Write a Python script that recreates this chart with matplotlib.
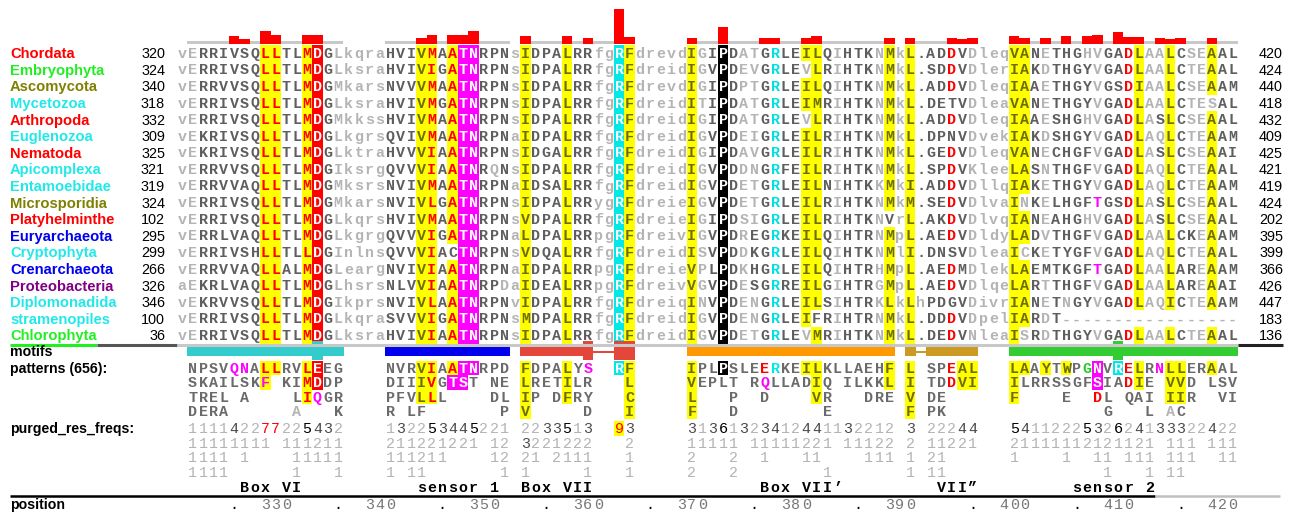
import matplotlib
matplotlib.use('Agg')
import matplotlib.pyplot as plt
from matplotlib.patches import Rectangle

# ── data ────────────────────────────────────────────────────────────────
names = ['Chordata', 'Embryophyta', 'Ascomycota', 'Mycetozoa', 'Arthropoda',
         'Euglenozoa', 'Nematoda', 'Apicomplexa', 'Entamoebidae', 'Microsporidia',
         'Platyhelminthe', 'Euryarchaeota', 'Cryptophyta', 'Crenarchaeota',
         'Proteobacteria', 'Diplomonadida', 'stramenopiles', 'Chlorophyta']
name_colors = ['#ff0000', '#22ee22', '#808000', '#22e8e8', '#ff0000',
               '#22e8e8', '#ff0000', '#22e8e8', '#22e8e8', '#808000',
               '#ff0000', '#0000ee', '#22e8e8', '#0000ee',
               '#800080', '#22e8e8', '#22e8e8', '#22ee22']
starts = [320, 324, 340, 318, 332, 309, 325, 321, 319, 324, 102, 295, 299, 266, 326, 346, 100, 36]
ends = [420, 424, 440, 418, 432, 409, 425, 421, 419, 424, 202, 395, 399, 366, 426, 447, 183, 136]

seqs = [
    'vERRIVSQLLTLMDGLkqra' 'HVIVMAATNRPNs' 'IDPALRRfgRFdrevd' 'IGIPDATGRLEILQIHTKNMkL' '.' 'ADDVDleq' 'VANETHGHVGADLAALCSEAAL',
    'vERRIVSQLLTLMDGLksra' 'HVIVIGATNRPNs' 'IDPALRRfgRFdreid' 'IGVPDEVGRLEVLRIHTKNMkL' '.' 'SDDVDler' 'IAKDTHGYVGADLAALCTEAAL',
    'vERRVVSQLLTLMDGMkars' 'NVVVMAATNRPNs' 'IDPALRRfgRFdrevd' 'IGIPDPTGRLEILQIHTKNMkL' '.' 'ADDVDleq' 'IAAETHGYVGSDIAALCSEAAM',
    'vERRIVSQLLTLMDGLksra' 'HVIVMGATNRPNs' 'IDPALRRfgRFdreid' 'ITIPDATGRLEIMRIHTKNMkL' '.' 'DETVDlea' 'VANETHGYVGADLAALCTESAL',
    'vERRIVSQLLTLMDGMkkss' 'HVIVMAATNRPNs' 'IDPALRRfgRFdreid' 'IGIPDATGRLEVLRIHTKNMkL' '.' 'ADDVDleq' 'IAAESHGHVGADLASLCSEAAL',
    'vEKRIVSQLLTLMDGLkgrs' 'QVIVMAATNRPNa' 'IDPALRRfgRFdreid' 'IGVPDEIGRLEILRIHTKNMkL' '.' 'DPNVDvek' 'IAKDSHGYVGADLAQLCTEAAM',
    'vEKRIVSQLLTLMDGLktra' 'HVVVIAATNRPNs' 'IDGALRRfgRFdreid' 'IGIPDAVGRLEILRIHTKNMkL' '.' 'GEDVDleq' 'VANECHGFVGADLASLCSEAAI',
    'vERRVVSQLLTLMDGIksrg' 'QVVVIAATNRQNs' 'IDPALRRfgRFdreid' 'IGVPDDNGRFEILRIHTKNMkL' '.' 'SPDVKlee' 'LASNTHGFVGADLAQLCTEAAL',
    'vERRVVAQLLTLMDGMksrs' 'NVIVMAATNRPNa' 'IDSALRRfgRFdreid' 'IGVPDETGRLEILNIHTKKMkI' '.' 'ADDVDllq' 'IAKETHGYVGADLAQLCTEAAM',
    'vERRIVSQLLTLMDGMkars' 'NVIVLGATNRPNs' 'IDPALRRygRFdreie' 'IGVPDETGRLEILRIHTKNMkM' '.' 'SEDVDlva' 'INKELHGFTGSDLASLCSEAAL',
    'vERRIVSQLLTLMDGLkqrs' 'HVIVMAATNRPNs' 'VDPALRRfgRFdreie' 'IGIPDSIGRLEILRIHTKNVrL' '.' 'AKDVDlvq' 'IANEAHGHVGADLASLCSEAAL',
    'vERRLVAQLLTLMDGLkgrg' 'QVVVIGATNRPNa' 'LDPALRRpgRFdreiv' 'IGVPDREGRKEILQIHTRNMpL' '.' 'AEDVDldy' 'LADVTHGFVGADLAALCKEAAM',
    'vERRIVSHLLTLLDGInlns' 'QVVVIACTNRPNs' 'VDQALRRfgRFdreid' 'ISVPDDKGRLEILQIHTKNMlI' '.' 'DNSVDlea' 'ICKETYGFVGADLAQLCTEAAL',
    'vERRVVAQLLALMDGLearg' 'NVIVIAATNRPNa' 'IDPALRRpgRFdreie' 'VPLPDKHGRLEILQIHTRHMpL' '.' 'AEDMDlek' 'LAEMTKGFTGADLAALAREAAM',
    'aEKRLVAQLLTLMDGLhsrs' 'NLVVIAATNRPDa' 'IDEALRRpgRFdreiv' 'VGVPDESGRREILGIHTRGMpL' '.' 'AEDVDlqe' 'LARTTHGFVGADLAALAREAAI',
    'vEKRVVSQLLTLMDGIkprs' 'NVIVLAATNRPNv' 'IDPALRRfgRFdreiq' 'INVPDENGRLEILSIHTRKLkL' 'h' 'PDGVDivr' 'IANETNGYVGADLAQICTEAAM',
    'vERRIVSQLLTLMDGLkqra' 'SVVVIGATNRPNs' 'MDPALRRfgRFdreid' 'IGVPDENGRLEIFRIHTRNMkL' '.' 'DDDVDpel' 'IARDT-----------------',
    'vERRIVSQLLTLMDGLksra' 'HVIVIAATNRPNs' 'IDPALRRfgRFdreid' 'IGVPDETGRLEVMRIHTKNMkL' '.' 'DEDVNlea' 'ISRDTHGYVGADLAALCTEAAL',
]

# uppercase residues drawn in light grey (not conserved in that column)
light_upper = {1: 'E', 15: 'LMI', 25: 'C', 30: 'Q', 31: 'D', 50: 'GTSPN',
               54: 'AEPSDRKN', 55: 'TVIN', 60: 'V', 63: 'I', 67: 'NKHG',
               76: 'DKN', 81: 'CSN', 83: 'EDNVT', 85: 'N', 87: 'H', 88: 'V',
               93: 'A', 94: 'AQ', 97: 'ST', 98: 'E', 99: 'S'}

# column highlights: column -> (residues, background, text colour)
YEL, OLV = '#ffff00', '#6e6e00'
col_marks = {8: ('L', YEL, 'red'), 9: ('L', YEL, 'red'), 12: ('ML', YEL, 'red'),
             13: ('D', 'red', 'white'), 23: ('V', YEL, OLV), 24: ('MIL', YEL, 'red'),
             26: ('A', YEL, 'red'), 27: ('T', '#ff00ff', 'white'), 28: ('N', '#ff00ff', 'white'),
             33: ('IVLM', YEL, OLV), 37: ('L', YEL, OLV), 42: ('R', '#00e8e8', 'white'),
             43: ('F', YEL, OLV), 49: ('IV', YEL, OLV), 52: ('P', 'black', 'white'),
             57: ('R', None, '#00e0e0'), 60: ('I', YEL, OLV), 61: ('LM', YEL, OLV),
             68: ('MLK', YEL, OLV), 70: ('LIM', YEL, OLV), 74: ('D', None, 'red'),
             80: ('VIL', YEL, OLV), 81: ('A', YEL, OLV), 88: ('T', None, '#ff00ff'),
             91: ('D', None, 'red'), 92: ('LI', YEL, OLV), 95: ('LI', YEL, OLV),
             99: ('A', YEL, OLV)}

# conservation bars above the alignment (column -> height)
bar_heights = {5: 8, 6: 5, 8: 13, 9: 9, 12: 9, 13: 9, 23: 6, 24: 9, 26: 9, 27: 9,
               28: 13, 33: 8, 37: 8, 39: 6, 42: 35, 43: 7, 49: 6, 52: 17, 56: 6,
               57: 6, 60: 6, 61: 8, 68: 6, 70: 6, 74: 6, 75: 5, 76: 6, 80: 8, 81: 6,
               83: 6, 85: 8, 87: 8, 88: 9, 90: 12, 91: 7, 92: 7, 94: 6, 95: 5,
               96: 6, 99: 6}

motif_spans = [(1, 15), (20, 31), (33, 43), (49, 68), (70, 76), (80, 101)]
motif_colors = ['#33cccc', '#0000ee', '#e4473a', '#ff9900', '#cc9922', '#33cc33']
motif_gaps = {2: (40, 41), 4: (71, 71)}
motif_bumps = {0: [13], 2: [39, 42, 43], 5: [90]}

pattern_rows = [
    [(1, 'NPSVQNALLRVLEEG'), (20, 'NVRVIAATNRPD'), (33, 'FDPALYS  RF'),
     (49, 'IPLPSLEERKEILKLLAEHF'), (70, 'L'), (72, 'SPEAL'), (80, 'LAAYTWPGNVRELRNLLERAAL')],
    [(1, 'SKAILSKF KIMDDP'), (20, 'DIIIVGTST NE'), (33, 'LRETILR   L'),
     (49, 'VEPLT RQLLADIQ ILKKL'), (70, 'I'), (72, 'TDDVI'), (80, 'ILRRSSGFSIADIE VVD LSV')],
    [(1, 'TREL A    LIQGR'), (20, 'PFVLLL    DL'), (33, 'IP DFRY   C'),
     (49, 'L   P  D    VR   DRE'), (70, 'V'), (72, 'DE'), (80, 'F    E  DL QAI IIR  VI')],
    [(1, 'DERA      A   K'), (20, 'R LF       P'), (33, 'V     D   I'),
     (49, 'F   D        E'), (70, 'F'), (72, 'PK'), (80, '         G   L AC')],
]
# (row, column) -> (background, text colour) for the pattern rows
MAG, CYN = '#ff00ff', '#00e8e8'
pattern_marks = {
    (0, 5): (None, MAG), (0, 6): (None, MAG), (0, 8): (YEL, 'red'), (0, 9): (YEL, 'red'),
    (0, 12): (YEL, 'red'), (0, 13): ('red', 'white'), (0, 23): (YEL, OLV), (0, 24): (YEL, 'red'),
    (0, 26): (YEL, 'red'), (0, 27): (MAG, 'white'), (0, 28): (MAG, 'white'), (0, 33): (YEL, OLV),
    (0, 37): (YEL, OLV), (0, 39): (None, MAG), (0, 42): (CYN, 'white'), (0, 43): (YEL, OLV),
    (0, 49): (YEL, OLV), (0, 52): ('black', 'white'), (0, 56): (None, 'red'), (0, 57): (None, CYN),
    (0, 60): (YEL, OLV), (0, 61): (YEL, OLV), (0, 68): (YEL, OLV), (0, 70): (YEL, OLV),
    (0, 74): (None, 'red'), (0, 75): (YEL, OLV), (0, 76): (YEL, OLV), (0, 80): (YEL, OLV),
    (0, 81): (YEL, OLV), (0, 83): (YEL, OLV), (0, 85): (YEL, OLV), (0, 87): (None, '#22cc22'),
    (0, 88): (MAG, 'white'), (0, 90): (CYN, 'white'), (0, 91): (None, 'red'), (0, 92): (YEL, OLV),
    (0, 94): (None, MAG), (0, 95): (YEL, OLV), (0, 96): (YEL, OLV), (0, 99): (YEL, OLV),
    (1, 8): (YEL, MAG), (1, 12): (YEL, 'red'), (1, 13): ('red', 'white'), (1, 23): (YEL, OLV),
    (1, 24): (YEL, 'red'), (1, 26): (MAG, 'white'), (1, 27): (MAG, 'white'), (1, 33): (YEL, OLV),
    (1, 37): (YEL, OLV), (1, 43): (YEL, OLV), (1, 49): (YEL, OLV), (1, 56): (None, MAG),
    (1, 61): (YEL, OLV), (1, 68): (YEL, OLV), (1, 70): (YEL, OLV), (1, 74): (None, 'red'),
    (1, 75): (YEL, OLV), (1, 76): (YEL, OLV), (1, 80): (YEL, OLV), (1, 88): (MAG, 'white'),
    (1, 91): (None, 'red'), (1, 92): (YEL, OLV), (1, 95): (YEL, OLV), (1, 96): (YEL, OLV),
    (2, 12): (YEL, 'red'), (2, 13): (None, MAG), (2, 23): (YEL, OLV), (2, 24): (YEL, 'red'),
    (2, 33): (YEL, OLV), (2, 37): (YEL, OLV), (2, 43): (YEL, OLV), (2, 49): (YEL, OLV),
    (2, 61): (YEL, OLV), (2, 70): (YEL, OLV), (2, 80): (YEL, OLV), (2, 88): (None, 'red'),
    (2, 95): (YEL, OLV), (2, 96): (YEL, OLV),
    (3, 11): (None, '#b4b4b4'), (3, 33): (YEL, OLV), (3, 43): (YEL, OLV), (3, 49): (YEL, OLV),
    (3, 70): (YEL, OLV), (3, 95): (None, '#b4b4b4'),
}

freq_rows = [
    [(1, '111142277225432'), (20, '132253445221'), (33, '2233513  93'),
     (49, '31361323412441132212'), (70, '3'), (72, '22244'), (80, '5411222532624133322422')],
    [(1, '11111111 111211'), (20, '211221221 12'), (33, '3221222   2'),
     (49, '11111 11111221 11122'), (70, '2'), (72, '11221'), (80, '21111112121121 111 111')],
    [(1, '1111 1    11111'), (20, '111211    12'), (33, '21 2111   1'),
     (49, '2   2  1   11    111'), (70, '1'), (72, '21'), (80, '1    1  11 111 111  11')],
    [(1, '1111      1   1'), (20, '1 11       1'), (33, '1     1   1'),
     (49, '2   2        1'), (70, '1'), (72, '11'), (80, '         1   1 11')],
]

box_labels = [(6, 'Box VI'), (23, 'sensor 1'), (33, 'Box VII'), (56, 'Box VII’'),
              (73, 'VII”'), (86, 'sensor 2')]
pos_labels = [330, 340, 350, 360, 370, 380, 390, 400, 410, 420]
pos_dots = [325, 335, 345, 355, 365, 375, 385, 395, 405, 415]

# ── layout (pixel coordinates) ─────────────────────────────────────────
W, H = 1294, 516
X0, CW = 177.0, 10.4      # left edge of column 0, column width
Y0, RH = 53.0, 16.6       # centre of first sequence row, row pitch
PAT_Y, FRQ_Y, SUB = 368.0, 428.5, 14.5
MONO, SANS = 'Liberation Mono', 'Liberation Sans'
FS = 10.8
DARK, LIGHT = '#5e5e5e', '#b4b4b4'

fig = plt.figure(figsize=(W / 100, H / 100), dpi=100)
ax = fig.add_axes([0, 0, 1, 1])
ax.set_xlim(0, W)
ax.set_ylim(H, 0)
ax.axis('off')


def cx(col):
    return X0 + (col + 0.5) * CW


def letter(col, yc, ch, color, size=FS, weight='bold'):
    ax.text(cx(col), yc + 4.7, ch, ha='center', va='baseline', family=MONO,
            fontsize=size, fontweight=weight, color=color)


def cell(col, yc, h, color):
    ax.add_patch(Rectangle((X0 + col * CW, yc - h / 2), CW, h, fc=color, ec='none', lw=0))


# conservation bars
for a, b in motif_spans:
    ax.add_patch(Rectangle((X0 + a * CW, 41.3), (b - a + 1) * CW, 3.0, fc='#c8c8c8', ec='none'))
for col, h in bar_heights.items():
    ax.add_patch(Rectangle((X0 + col * CW, 44.3 - h), CW, h, fc='red', ec='none'))

# sequence rows
for i, s in enumerate(seqs):
    yc = Y0 + i * RH
    ax.text(10, yc + 5.2, names[i], family=SANS, fontsize=10.6, fontweight='bold',
            color=name_colors[i], va='baseline')
    ax.text(165, yc + 5.2, str(starts[i]), family=SANS, fontsize=10.4, ha='right', va='baseline')
    ax.text(1259, yc + 5.2, str(ends[i]), family=SANS, fontsize=10.4, ha='left', va='baseline')
    for c, ch in enumerate(s):
        color = LIGHT if (ch.islower() or ch == '-') else DARK
        if ch in light_upper.get(c, ''):
            color = LIGHT
        if c in col_marks and ch in col_marks[c][0]:
            bg, color = col_marks[c][1], col_marks[c][2]
            if bg:
                cell(c, yc, RH + 0.3, bg)
        letter(c, yc, ch, color)

# separator under the alignment
sep_y = Y0 + 17.5 * RH + 1
ax.plot([10, 97], [sep_y, sep_y], color='#22ee22', lw=2.2, solid_capstyle='butt')
ax.plot([97, 177], [sep_y, sep_y], color='#555555', lw=2.2, solid_capstyle='butt')
ax.plot([177, 1238], [sep_y, sep_y], color='#c8c8c8', lw=2.2, solid_capstyle='butt')
ax.plot([1238, 1283], [sep_y, sep_y], color='#222222', lw=2.2, solid_capstyle='butt')

# motif bars
for k, (a, b) in enumerate(motif_spans):
    col = motif_colors[k]
    gap = motif_gaps.get(k)
    for c in range(a, b + 1):
        if gap and gap[0] <= c <= gap[1]:
            ax.add_patch(Rectangle((X0 + c * CW, 350.6), CW, 2.2, fc=col, ec='none'))
        else:
            ax.add_patch(Rectangle((X0 + c * CW, 346), CW + 0.2, 10, fc=col, ec='none'))
    for c in motif_bumps.get(k, []):
        ax.add_patch(Rectangle((X0 + c * CW, 341), CW, 19, fc=col, ec='none'))

for lbl, y in [('motifs', 351), ('patterns (656):', 368), ('purged_res_freqs:', 428.5),
               ('position', 504)]:
    ax.text(10, y + 4.8, lbl, family=SANS, fontsize=10.2, fontweight='bold', va='baseline')

# pattern rows
for r, row in enumerate(pattern_rows):
    yc = PAT_Y + r * SUB
    for start, txt in row:
        for j, ch in enumerate(txt):
            c = start + j
            if ch == ' ':
                continue
            bg, color = pattern_marks.get((r, c), (None, '#6a6a6a'))
            if bg:
                cell(c, yc, SUB + 0.3, bg)
            letter(c, yc, ch, color)

# frequency rows
for r, row in enumerate(freq_rows):
    yc = FRQ_Y + r * SUB
    for start, txt in row:
        for j, ch in enumerate(txt):
            c = start + j
            if ch == ' ':
                continue
            v = int(ch)
            color = LIGHT if v <= 2 else ('#4a4a4a' if v <= 4 else ('black' if v <= 6 else 'red'))
            if v >= 9:
                cell(c, yc, SUB, YEL)
            letter(c, yc, ch, color, weight='normal')

# box labels and position ruler
for c, txt in box_labels:
    for j, ch in enumerate(txt):
        letter(c + j, 487, ch, 'black')
ax.plot([10, 1155], [496, 496], color='black', lw=1.8, solid_capstyle='butt')
ax.plot([1155, 1280], [496, 496], color='#c0c0c0', lw=1.8, solid_capstyle='butt')


def pos_col(p):
    return p - 320 if p <= 390 else p - 319


for p in pos_labels:
    s = str(p)
    for j, ch in enumerate(s):
        letter(pos_col(p) - (len(s) - 1) + j, 504, ch, '#777777', weight='normal')
for p in pos_dots:
    letter(pos_col(p), 504, '.', 'black', weight='normal')

fig.savefig('out.png', dpi=100)
